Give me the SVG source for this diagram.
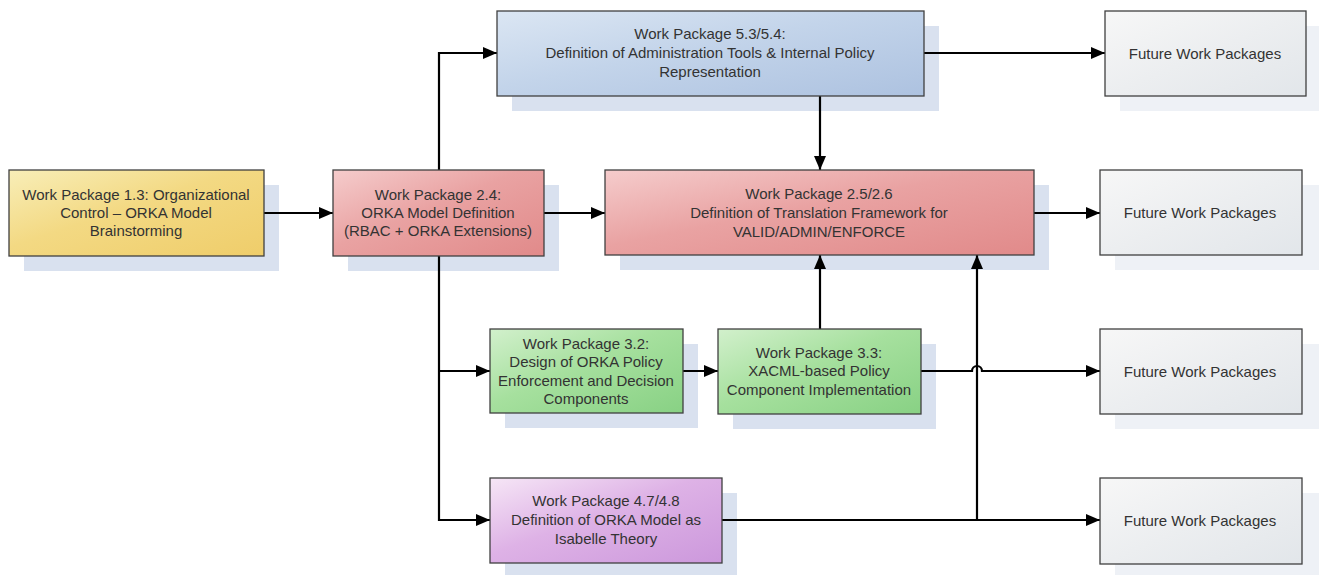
<svg xmlns="http://www.w3.org/2000/svg" width="1319" height="575" viewBox="0 0 1319 575">
  <defs>
    <linearGradient id="gYellow" x1="0" y1="0" x2="1" y2="1">
      <stop offset="0" stop-color="#f8eeb8"/>
      <stop offset="0.45" stop-color="#f3d983"/>
      <stop offset="1" stop-color="#efcd6a"/>
    </linearGradient>
    <linearGradient id="gRed" x1="0" y1="0" x2="1" y2="1">
      <stop offset="0" stop-color="#f5cccc"/>
      <stop offset="0.45" stop-color="#e9a2a2"/>
      <stop offset="1" stop-color="#e18a8a"/>
    </linearGradient>
    <linearGradient id="gBlue" x1="0" y1="0" x2="1" y2="1">
      <stop offset="0" stop-color="#dbe6f3"/>
      <stop offset="0.45" stop-color="#c3d4ea"/>
      <stop offset="1" stop-color="#adc2e0"/>
    </linearGradient>
    <linearGradient id="gGreen" x1="0" y1="0" x2="1" y2="1">
      <stop offset="0" stop-color="#d2f0cc"/>
      <stop offset="0.45" stop-color="#a6e09e"/>
      <stop offset="1" stop-color="#88d184"/>
    </linearGradient>
    <linearGradient id="gPurple" x1="0" y1="0" x2="1" y2="1">
      <stop offset="0" stop-color="#f6e6f6"/>
      <stop offset="0.45" stop-color="#deb2e6"/>
      <stop offset="1" stop-color="#cc98dc"/>
    </linearGradient>
    <linearGradient id="gGrey" x1="0" y1="0" x2="1" y2="1">
      <stop offset="0" stop-color="#f7f7f7"/>
      <stop offset="0.5" stop-color="#eceef0"/>
      <stop offset="1" stop-color="#e2e6ea"/>
    </linearGradient>
    <marker id="arrow" viewBox="0 0 14 12" refX="14" refY="6" markerWidth="14" markerHeight="12" markerUnits="userSpaceOnUse" orient="auto">
      <path d="M0,0 L14,6 L0,12 Z" fill="#000"/>
    </marker>
  </defs>
  <style>
    .shadow { fill: #d9e1ef; }
    .shadow-light { fill: #eef1f6; }
    .box { stroke: #404040; stroke-width: 1.3; }
    .label { font-family: "Liberation Sans", Arial, sans-serif; font-size: 15px; fill: #333; text-anchor: middle; }
    .wire { fill: none; stroke: #000; stroke-width: 2.2; }
  </style>

  <rect width="1319" height="575" fill="#fff"/>

  <!-- drop shadows -->
  <g id="shadows">
    <rect class="shadow" x="24" y="185" width="255" height="86"/>
    <rect class="shadow" x="348" y="185" width="211" height="86"/>
    <rect class="shadow" x="512" y="26" width="427" height="85"/>
    <rect class="shadow" x="620" y="185" width="429" height="85"/>
    <rect class="shadow" x="505" y="344" width="193" height="84"/>
    <rect class="shadow" x="733" y="344" width="203" height="85"/>
    <rect class="shadow" x="505" y="493" width="232" height="82"/>
    <rect class="shadow-light" x="1120" y="26" width="199" height="85"/>
    <rect class="shadow-light" x="1115" y="185" width="204" height="85"/>
    <rect class="shadow-light" x="1115" y="344" width="204" height="85"/>
    <rect class="shadow-light" x="1115" y="493" width="204" height="82"/>
  </g>

  <!-- connectors -->
  <g id="connectors">
    <path class="wire" d="M264,213 H333" marker-end="url(#arrow)"/>
    <path class="wire" d="M544,213 H605" marker-end="url(#arrow)"/>
    <path class="wire" d="M439,170 V53 H497" marker-end="url(#arrow)"/>
    <path class="wire" d="M439,256 V520 H490" marker-end="url(#arrow)"/>
    <path class="wire" d="M439,371 H490" marker-end="url(#arrow)"/>
    <path class="wire" d="M683,371 H718" marker-end="url(#arrow)"/>
    <path class="wire" d="M820,329 V255" marker-end="url(#arrow)"/>
    <path class="wire" d="M820,96 V170" marker-end="url(#arrow)"/>
    <path class="wire" d="M924,53 H1105" marker-end="url(#arrow)"/>
    <path class="wire" d="M1034,213 H1100" marker-end="url(#arrow)"/>
    <path class="wire" d="M921,371 H972 A5,5 0 0 1 982,371 H1100" marker-end="url(#arrow)"/>
    <path class="wire" d="M722,520 H1100" marker-end="url(#arrow)"/>
    <path class="wire" d="M977,520 V255" marker-end="url(#arrow)"/>
  </g>

  <g id="wp13">
    <rect class="box" x="9" y="170" width="255" height="86" fill="url(#gYellow)"/>
    <text class="label" x="136" y="200">Work Package 1.3: Organizational</text>
    <text class="label" x="136" y="218">Control – ORKA Model</text>
    <text class="label" x="136" y="236">Brainstorming</text>
  </g>

  <g id="wp24">
    <rect class="box" x="333" y="170" width="211" height="86" fill="url(#gRed)"/>
    <text class="label" x="438" y="200">Work Package 2.4:</text>
    <text class="label" x="438" y="218">ORKA Model Definition</text>
    <text class="label" x="438" y="236">(RBAC + ORKA Extensions)</text>
  </g>

  <g id="wp53">
    <rect class="box" x="497" y="11" width="427" height="85" fill="url(#gBlue)"/>
    <text class="label" x="710" y="39">Work Package 5.3/5.4:</text>
    <text class="label" x="710" y="58">Definition of Administration Tools &amp; Internal Policy</text>
    <text class="label" x="710" y="77">Representation</text>
  </g>

  <g id="wp25">
    <rect class="box" x="605" y="170" width="429" height="85" fill="url(#gRed)"/>
    <text class="label" x="819" y="199">Work Package 2.5/2.6</text>
    <text class="label" x="819" y="218">Definition of Translation Framework for</text>
    <text class="label" x="819" y="237">VALID/ADMIN/ENFORCE</text>
  </g>

  <g id="wp32">
    <rect class="box" x="490" y="329" width="193" height="84" fill="url(#gGreen)"/>
    <text class="label" x="586" y="349">Work Package 3.2:</text>
    <text class="label" x="586" y="367">Design of ORKA Policy</text>
    <text class="label" x="586" y="386">Enforcement and Decision</text>
    <text class="label" x="586" y="404">Components</text>
  </g>

  <g id="wp33">
    <rect class="box" x="718" y="329" width="203" height="85" fill="url(#gGreen)"/>
    <text class="label" x="819" y="358">Work Package 3.3:</text>
    <text class="label" x="819" y="376">XACML-based Policy</text>
    <text class="label" x="819" y="395">Component Implementation</text>
  </g>

  <g id="wp47">
    <rect class="box" x="490" y="478" width="232" height="85" fill="url(#gPurple)"/>
    <text class="label" x="606" y="506">Work Package 4.7/4.8</text>
    <text class="label" x="606" y="525">Definition of ORKA Model as</text>
    <text class="label" x="606" y="544">Isabelle Theory</text>
  </g>

  <g id="future1">
    <rect class="box" x="1105" y="11" width="201" height="85" fill="url(#gGrey)"/>
    <text class="label" x="1205" y="59">Future Work Packages</text>
  </g>
  <g id="future2">
    <rect class="box" x="1100" y="170" width="202" height="85" fill="url(#gGrey)"/>
    <text class="label" x="1200" y="218">Future Work Packages</text>
  </g>
  <g id="future3">
    <rect class="box" x="1100" y="329" width="202" height="85" fill="url(#gGrey)"/>
    <text class="label" x="1200" y="377">Future Work Packages</text>
  </g>
  <g id="future4">
    <rect class="box" x="1100" y="478" width="202" height="86" fill="url(#gGrey)"/>
    <text class="label" x="1200" y="526">Future Work Packages</text>
  </g>
</svg>
